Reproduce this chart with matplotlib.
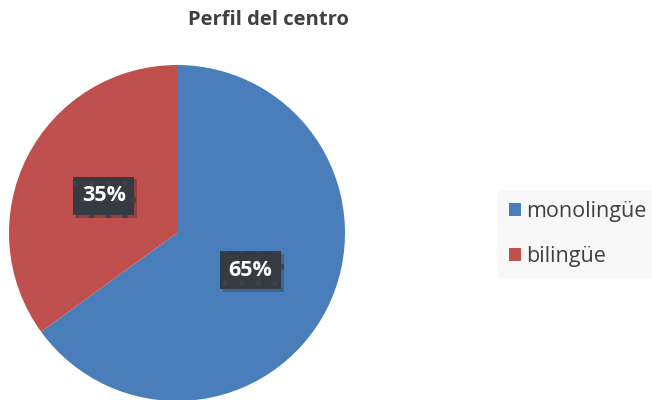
import matplotlib.pyplot as plt
import matplotlib.patches as mpatches
import matplotlib.patheffects as pe

# data
categories = ['monolingüe', 'bilingüe']
shares = [65, 35]
colors = ['#4A7EBB', '#C0504D']
title = 'Perfil del centro'

plt.rcParams['font.family'] = ['Open Sans', 'DejaVu Sans']
plt.rcParams['hatch.linewidth'] = 1.5

fig = plt.figure(figsize=(6.52, 4.0), dpi=100)
fig.patch.set_facecolor('white')

# pie axes: center ~ (177, 233) px, radius ~ 168 px
cx, cy, r = 177, 400 - 233, 168
ax = fig.add_axes([(cx - r) / 652, (cy - r) / 400, 2 * r / 652, 2 * r / 400])
wedges, texts, autotexts = ax.pie(
    shares, colors=colors, startangle=90, counterclock=False,
    autopct='%1.0f%%', pctdistance=0.49, radius=1.0,
    wedgeprops=dict(linewidth=0))
ax.set_xlim(-1, 1)
ax.set_ylim(-1, 1)
ax.set_aspect('equal')
ax.axis('off')

for t in autotexts:
    t.set_color('white')
    t.set_fontweight('bold')
    t.set_fontsize(15.5)
    t.set_bbox(dict(boxstyle='square,pad=0.4', facecolor='#353b41',
                    edgecolor='#3d4349', linewidth=0, hatch='.'))
    t.get_bbox_patch().set_path_effects(
        [pe.SimplePatchShadow(offset=(2, -2), alpha=0.25), pe.Normal()])

fig.text(268 / 652, 1 - 20 / 400, title, ha='center', va='center',
         fontsize=14.5, fontweight='bold', color='#404040')

handles = [mpatches.Patch(facecolor=c, edgecolor='none') for c in colors]
leg = fig.legend(handles, categories, loc='center left',
                 bbox_to_anchor=(498 / 652, 1 - 234 / 400),
                 frameon=True, fancybox=False, facecolor='#F7F7F7',
                 edgecolor='none', fontsize=15.5, handlelength=0.55,
                 handleheight=0.55, handletextpad=0.25, labelspacing=1.1,
                 borderpad=0.5, borderaxespad=0)
for t in leg.get_texts():
    t.set_color('#404040')

fig.savefig('out.png', dpi=100)
